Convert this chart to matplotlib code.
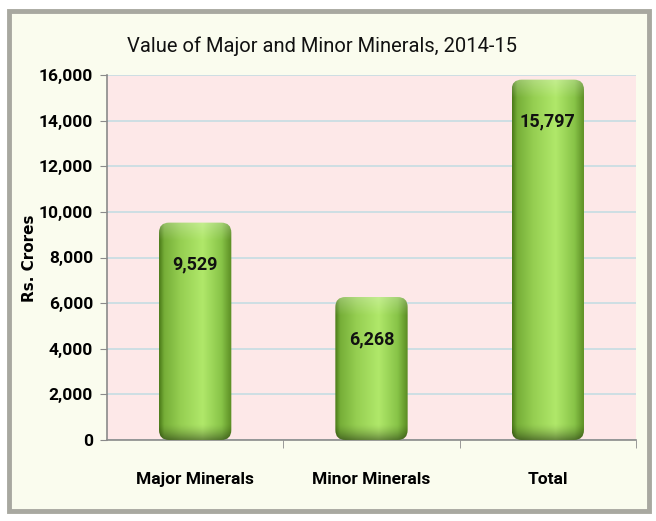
import matplotlib
matplotlib.use("Agg")
import matplotlib.pyplot as plt
import numpy as np
from matplotlib.patches import FancyBboxPatch, Rectangle
from matplotlib.ticker import FuncFormatter
from matplotlib.colors import to_rgb

categories = ["Major Minerals", "Minor Minerals", "Total"]
values = [9529, 6268, 15797]
value_labels = ["9,529", "6,268", "15,797"]
title = "Value of Major and Minor Minerals, 2014-15"
ylabel = "Rs. Crores"

FAM = ["Roboto", "DejaVu Sans"]

fig = plt.figure(figsize=(6.56, 5.21), dpi=100)
fig.patch.set_facecolor("white")

W, H = 656, 521
frame = Rectangle((9 / W, 10 / H), 640 / W, 500 / H, transform=fig.transFigure,
                  facecolor="#fafcee", edgecolor="#a8a8a0", linewidth=3.5, zorder=-5)
fig.patches.append(frame)

ax = fig.add_axes([107 / W, (H - 440) / H, 529 / W, 365 / H])
ax.set_zorder(2)
ax.set_facecolor("#fde8e8")
ax.set_xlim(-0.5, 2.5)
ax.set_ylim(0, 16000)
ax.set_yticks(np.arange(0, 16001, 2000))
ax.yaxis.set_major_formatter(FuncFormatter(lambda v, p: f"{int(v):,}"))
ax.grid(axis="y", color="#c9dde3", linewidth=1.3)
ax.set_axisbelow(True)
for s in ["top", "right"]:
    ax.spines[s].set_visible(False)
for s in ["left", "bottom"]:
    ax.spines[s].set_color("#8a8a8a")
    ax.spines[s].set_linewidth(1.2)

ax.set_xticks(range(3))
ax.set_xticklabels(categories, fontsize=12.5, fontweight="bold", family=FAM)
ax.tick_params(axis="x", length=0, pad=23)
ax.set_xticks([0.5, 1.5, 2.5], minor=True)
ax.tick_params(axis="x", which="minor", length=6, color="#8a8a8a", direction="out")
ax.tick_params(axis="y", length=5, color="#8a8a8a", pad=5)
for lb in ax.get_yticklabels():
    lb.set_fontsize(12.5)
    lb.set_fontweight("bold")
    lb.set_family(FAM)
fig.text(30 / W, 1 - 258 / H, ylabel, rotation=90, ha="center", va="center",
         fontsize=11, fontweight="bold", family="DejaVu Sans")
fig.text(322 / W, 1 - 46 / H, title, ha="center", va="center",
         fontsize=14.5, family=FAM, color="#111111")

bars = ax.bar(range(3), values, width=0.41, color="none", edgecolor="none")

xpp = 3 / 529.0
ypp = 16000 / 365.0
r_px = 10

# cylinder shading across the bar
xs = np.linspace(0, 1, 140)
stops = [0, 0.07, 0.3, 0.6, 0.86, 1.0]
cols = np.array([to_rgb(c) for c in
                 ["#4a7a18", "#76ae38", "#96cf52", "#b0e86a", "#88c448", "#5a8c22"]])
row = np.stack([np.interp(xs, stops, cols[:, k]) for k in range(3)], axis=1)

for b, lab in zip(bars, value_labels):
    x0, w, h = b.get_x(), b.get_width(), b.get_height()
    patch = FancyBboxPatch((x0, 0), w, h,
                           boxstyle=f"round,pad=0,rounding_size={r_px * xpp}",
                           mutation_aspect=ypp / xpp,
                           facecolor="none", edgecolor="none", zorder=3)
    ax.add_patch(patch)
    ny = 300
    img = np.repeat(row[None, :, :], ny, axis=0)
    yy = np.linspace(0, h, ny)[:, None, None]
    bot = np.clip(1 - yy / (16 * ypp), 0, 1) ** 1.5
    top = np.clip(1 - (h - yy) / (18 * ypp), 0, 1)
    img = img * (1 - 0.4 * bot)
    img = img + 0.25 * top * (1 - img)
    im = ax.imshow(img, extent=(x0, x0 + w, 0, h), origin="lower", aspect="auto",
                   zorder=3, interpolation="bilinear")
    im.set_clip_path(patch)
    ax.text(x0 + w / 2, h - 42 * ypp, lab, ha="center", va="center",
            fontsize=13, fontweight="bold", family=FAM,
            color="#111111", zorder=5)

ax.set_xlim(-0.5, 2.5)
ax.set_ylim(0, 16000)

fig.savefig("out.png", dpi=100, facecolor=fig.get_facecolor())
